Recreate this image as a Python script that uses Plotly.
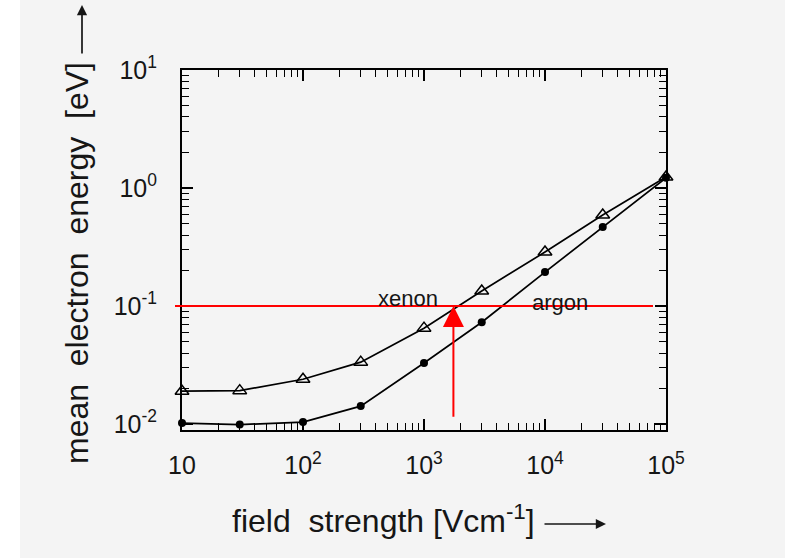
import numpy as np
import plotly.graph_objects as go

# ---- data ----
field_strength = [10, 30, 100, 300, 1000, 3000, 10000, 30000, 100000]
xenon_energy = [0.019, 0.0192, 0.024, 0.0335, 0.065, 0.134, 0.287, 0.59, 1.24]
argon_energy = [0.0102, 0.0099, 0.0104, 0.0142, 0.0329, 0.073, 0.194, 0.467, 1.22]
x_tick_vals = [10, 100, 1000, 10000, 100000]
x_tick_text = ["10", "10<sup>2</sup>", "10<sup>3</sup>", "10<sup>4</sup>", "10<sup>5</sup>"]
y_tick_vals = [0.01, 0.1, 1, 10]
y_tick_text = ["10<sup>-2</sup>", "10<sup>-1</sup>", "10<sup>0</sup>", "10<sup>1</sup>"]
threshold_energy = 0.1
crossing_field = 1750
arrow_base_energy = 0.0112
series_labels = ["xenon", "argon"]
label_fields = [738, 13300]
label_energies = [0.117, 0.108]

W, H = 785, 558
L, R, T, B = 182, 119, 70, 128
pw, ph = W - L - R, H - T - B


def px(xp):
    return (xp - L) / pw


def py(yp):
    return (H - B - yp) / ph


FONT = "Liberation Sans"
BG = "#f4f4f4"
INK = "#161616"

fig = go.Figure()
fig.add_trace(go.Scatter(
    x=field_strength, y=xenon_energy, mode="lines+markers",
    line=dict(color="black", width=1.7),
    marker=dict(symbol="triangle-up-open", size=12, color="black", line=dict(width=1.5)),
    showlegend=False, cliponaxis=False))
fig.add_trace(go.Scatter(
    x=field_strength, y=argon_energy, mode="lines+markers",
    line=dict(color="black", width=1.7),
    marker=dict(symbol="circle", size=8, color="black"),
    showlegend=False, cliponaxis=False))

axis_common = dict(
    type="log", showgrid=False, zeroline=False, showline=True, linecolor="black",
    linewidth=2, mirror="ticks", ticks="inside", ticklen=11, tickwidth=1.6,
    tickcolor="black", tickfont=dict(family=FONT, size=25, color=INK),
    minor=dict(ticks="inside", ticklen=7, tickwidth=1.4, tickcolor="black",
               dtick="D1", showgrid=False),
)
fig.update_xaxes(range=[1, 5], tickvals=x_tick_vals, ticktext=x_tick_text,
                 ticklabelstandoff=12, **axis_common)
fig.update_yaxes(range=[-2.05, 1], tickvals=y_tick_vals, ticktext=y_tick_text,
                 ticklabelstandoff=18, **axis_common)

shapes = [
    # white scan edge on the left
    dict(type="rect", xref="paper", yref="paper", x0=px(0), x1=px(20), y0=py(H), y1=py(0),
         fillcolor="white", line=dict(width=0), layer="below"),
    # red horizontal line at threshold energy
    dict(type="line", xref="paper", yref="y", x0=px(175), x1=px(653),
         y0=threshold_energy, y1=threshold_energy,
         line=dict(color="red", width=2)),
]

annotations = [
    dict(x=np.log10(crossing_field), y=np.log10(threshold_energy), xref="x", yref="y",
         ax=np.log10(crossing_field), ay=np.log10(arrow_base_energy), axref="x", ayref="y",
         showarrow=True, arrowhead=2, arrowsize=2.1, arrowwidth=2, arrowcolor="red", text=""),
    dict(x=px(77), y=py(263), xref="paper", yref="paper", xanchor="center", yanchor="middle",
         text="mean&nbsp;&nbsp;electron&nbsp;&nbsp;energy&nbsp;&nbsp;[eV]",
         textangle=-90, showarrow=False, font=dict(family=FONT, size=32, color=INK)),
    dict(x=px(82), y=py(5), xref="paper", yref="paper", ax=0, ay=50,
         showarrow=True, arrowhead=2, arrowsize=1.2,
         arrowwidth=1.7, arrowcolor=INK, text=""),
    dict(x=px(383), y=py(519), xref="paper", yref="paper", xanchor="center", yanchor="middle",
         text="field&nbsp;&nbsp;strength&nbsp;[Vcm<sup>-1</sup>]",
         showarrow=False, font=dict(family=FONT, size=32, color=INK)),
    dict(x=px(606), y=py(524), xref="paper", yref="paper", ax=-63, ay=0,
         showarrow=True, arrowhead=2, arrowsize=1.2,
         arrowwidth=1.7, arrowcolor=INK, text=""),
]
for name, fx, fy in zip(series_labels, label_fields, label_energies):
    annotations.append(dict(x=np.log10(fx), y=np.log10(fy), xref="x", yref="y", text=name,
                            showarrow=False,
                            font=dict(family=FONT, size=22, color=INK)))

fig.update_layout(
    width=W, height=H, margin=dict(l=L, r=R, t=T, b=B),
    paper_bgcolor=BG, plot_bgcolor=BG, shapes=shapes, annotations=annotations,
)
fig.write_html("out.html")
